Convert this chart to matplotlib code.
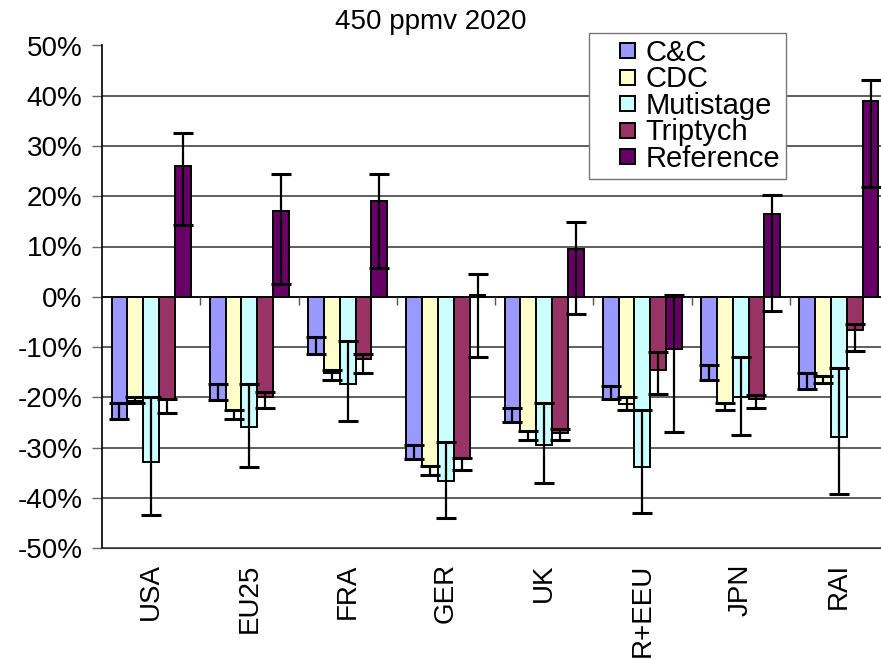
import numpy as np
import matplotlib
matplotlib.use("Agg")
import matplotlib.pyplot as plt
from matplotlib.ticker import FuncFormatter
from matplotlib.patches import Rectangle
from matplotlib.container import BarContainer
from matplotlib.legend_handler import HandlerPatch, update_from_first_child

plt.rcParams['font.family'] = ['Liberation Sans', 'DejaVu Sans']
plt.rcParams['axes.unicode_minus'] = False

categories = ["USA", "EU25", "FRA", "GER", "UK", "R+EEU", "JPN", "RAI"]
series_names = ["C&C", "CDC", "Mutistage", "Triptych", "Reference"]
colors = ["#9999FF", "#FFFFCC", "#CCFFFF", "#993366", "#660066"]

cc_val = [-24.3, -20.6, -11.3, -32.2, -24.9, -20.4, -16.6, -18.3]
cc_hi = [-21.1, -17.3, -8.1, -29.5, -22.1, -17.8, -13.6, -15.1]
cc_lo = [-24.3, -20.6, -11.3, -32.2, -24.9, -20.4, -16.6, -18.3]

cdc_val = [-20.8, -22.8, -15.1, -33.8, -26.9, -21.4, -21.1, -17.1]
cdc_hi = [-19.9, -22.5, -14.6, -33.6, -26.7, -20.0, -21.1, -15.8]
cdc_lo = [-21.1, -24.3, -16.6, -35.4, -28.5, -22.6, -22.6, -17.2]

mu_val = [-32.8, -25.9, -17.3, -36.6, -29.6, -33.9, -20.0, -27.9]
mu_hi = [-19.9, -17.3, -8.8, -29.0, -21.1, -22.6, -11.9, -14.1]
mu_lo = [-43.5, -33.8, -24.8, -44.1, -37.0, -43.0, -27.5, -39.2]

tr_val = [-20.3, -19.9, -12.3, -32.1, -27.2, -14.6, -20.4, -6.6]
tr_hi = [-20.3, -18.9, -11.3, -32.1, -26.4, -10.9, -19.5, -5.5]
tr_lo = [-23.2, -22.1, -15.1, -34.4, -28.5, -19.4, -22.1, -10.8]

ref_val = [26.1, 17.0, 19.1, 0.3, 9.5, -10.3, 16.4, 38.9]
ref_hi = [32.6, 24.5, 24.5, 4.6, 14.8, 0.4, 20.2, 43.2]
ref_lo = [14.3, 2.5, 5.7, -11.9, -3.4, -27.0, -2.8, 21.9]

yticks = list(range(-50, 51, 10))

series = [(cc_val, cc_hi, cc_lo), (cdc_val, cdc_hi, cdc_lo), (mu_val, mu_hi, mu_lo),
          (tr_val, tr_hi, tr_lo), (ref_val, ref_hi, ref_lo)]

W, H = 881, 659
fig = plt.figure(figsize=(W / 100, H / 100), dpi=100)
ax = fig.add_axes([102 / W, 1 - 548 / H, (888 - 102) / W, (548 - 45.5) / H])

x = np.arange(len(categories))
bw = 0.161
offsets = (np.arange(5) - 2) * bw

for i, ((v, hi, lo), name, c) in enumerate(zip(series, series_names, colors)):
    v = np.array(v); hi = np.array(hi); lo = np.array(lo)
    yerr = np.vstack([v - lo, hi - v])
    ax.bar(x + offsets[i], v, width=bw, color=c, edgecolor='black', linewidth=1.4,
           label=name, zorder=3,
           yerr=yerr, error_kw=dict(ecolor='black', elinewidth=1.6, capsize=7.5,
                                    capthick=2.2, zorder=4))

ax.set_xlim(-0.5, len(categories) - 0.5)
ax.set_ylim(-50, 50)
ax.set_yticks(yticks)
ax.yaxis.set_major_formatter(FuncFormatter(lambda v, p: f"{v:.0f}%"))
ax.tick_params(axis='y', labelsize=20, length=7, width=1, color='#666666', pad=7)
ax.set_xticks(x)
ax.set_xticklabels(categories, rotation=90, fontsize=20)
ax.tick_params(axis='x', length=0, pad=11)

ax.grid(axis='y', color='#333333', linewidth=1.1, zorder=0)
ax.set_axisbelow(True)
for s in ['top', 'right']:
    ax.spines[s].set_visible(False)
ax.spines['bottom'].set_color('#333333')
ax.spines['left'].set_color('black')
ax.spines['left'].set_linewidth(1.2)

# category axis at zero with tick marks between categories
ax.axhline(0, color='black', linewidth=1.2, zorder=2)
bounds = np.arange(len(categories) + 1) - 0.5
ax.vlines(bounds[1:-1], -1.6, 0, color='#555555', linewidth=1, zorder=2)

fig.text(431 / W, 1 - 29 / H, "450 ppmv 2020", ha='center', va='baseline', fontsize=20)

SQ = 10.8  # legend square size in points


def square_patch(legend, orig_handle, xdescent, ydescent, width, height, fontsize):
    return Rectangle((-xdescent + width - SQ, -ydescent + (height - SQ) / 2), SQ, SQ)


leg = ax.legend(loc='upper left', bbox_to_anchor=(589 / W, 1 - 33 / H),
                bbox_transform=fig.transFigure, borderaxespad=0,
                fontsize=21, frameon=True, fancybox=False, framealpha=1,
                edgecolor='#777777', handlelength=1.37, handleheight=0.7,
                handletextpad=0.38, labelspacing=-0.05, borderpad=0.2,
                handler_map={BarContainer: HandlerPatch(patch_func=square_patch,
                                                        update_func=update_from_first_child)})
leg.get_frame().set_linewidth(1)
leg.set_zorder(10)
for p in leg.get_patches():
    p.set_linewidth(1.4)

fig.savefig("out.png", dpi=100)
